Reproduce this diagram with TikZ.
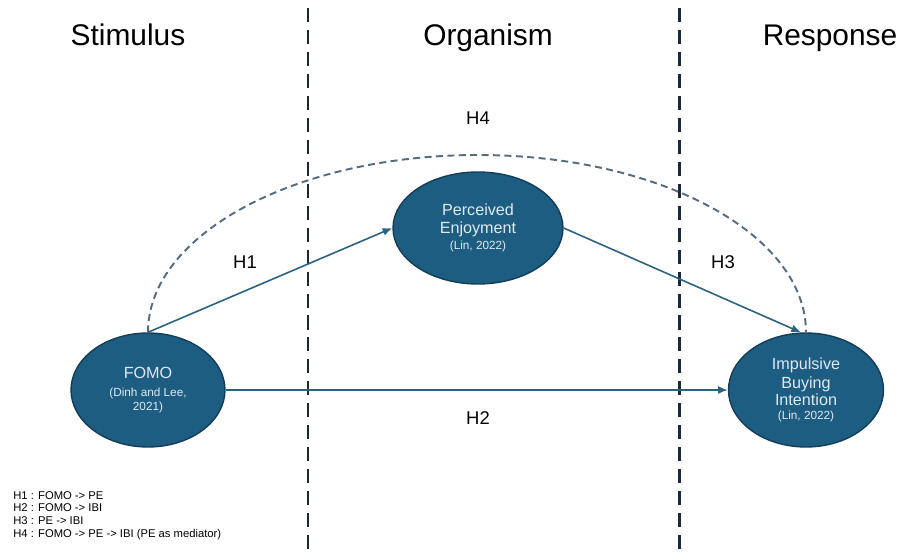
\documentclass[tikz,border=0pt]{standalone}
\usepackage{fontspec}
\setmainfont{Liberation Sans}
\usepackage{xcolor}
\usepackage{tikz}
\usetikzlibrary{arrows.meta,shapes.geometric}

\definecolor{consfill}{RGB}{29,93,130}
\definecolor{consline}{RGB}{20,62,88}
\definecolor{pathcol}{RGB}{42,98,128}
\definecolor{medcol}{RGB}{84,108,128}
\definecolor{sepcol}{RGB}{26,40,58}
\definecolor{constext}{RGB}{222,234,242}
\newcommand{\srcnote}[1]{{\fontsize{6.7}{8}\selectfont #1}}

\begin{document}
\begin{tikzpicture}[x=0.02cm, y=0.02cm,
            construct/.style={ellipse, draw=consline, fill=consfill, line width=0.8pt,
              text=constext, align=center, inner sep=0pt, font=\fontsize{9.2}{11}\selectfont},
            hyp/.style={draw=pathcol, line width=0.9pt, -{Latex[length=5.5pt,width=4.5pt]}},
            medpath/.style={draw=medcol, line width=1.1pt, dash pattern=on 4pt off 2.5pt},
            sep/.style={draw=sepcol, line width=1.7pt, dash pattern=on 8pt off 4.5pt},
            phase/.style={anchor=base, font=\fontsize{17}{20}\selectfont},
            hlabel/.style={font=\fontsize{10.5}{12}\selectfont},
          ]
          \useasboundingbox (0,0) rectangle (903,552);
          % stage separators
          \draw[sep] (308,544) -- (308,0);
          \draw[sep] (679,544) -- (679,0);
          \node[phase] (stim) at (128,506) {Stimulus};
          \node[phase] (org) at (488,506) {Organism};
          \node[phase] (resp) at (830,506) {Response};
          % constructs
          \node[construct, minimum width=3.08cm, minimum height=2.28cm] (fomo) at (148,162)
            {FOMO\\[-1pt]\srcnote{(Dinh and Lee,}\\[-3pt]\srcnote{2021)}};
          \node[construct, minimum width=3.4cm, minimum height=2.24cm] (pe) at (478,324)
            {Perceived\\[-0.5pt]Enjoyment\\[-2pt]\srcnote{(Lin, 2022)}};
          \node[construct, minimum width=3.1cm, minimum height=2.28cm] (ibi) at (806,162)
            {Impulsive\\[-0.5pt]Buying\\[-1pt]Intention\\[-3pt]\srcnote{(Lin, 2022)}};
          % hypotheses
          \coordinate (apex) at (478,397);
          \draw[medpath] (fomo.north) .. controls +(0,98) and +(-182,0) .. (apex)
            .. controls +(182,0) and +(0,98) .. (ibi.north);
          \draw[hyp] (fomo.north) -- (pe.west);
          \draw[hyp] (pe.east) -- (ibi.95);
          \draw[hyp] (fomo.east) -- (ibi.west);
          \node[hlabel] (h1) at (245,290) {H1};
          \node[hlabel] (h2) at (478,134) {H2};
          \node[hlabel] (h3) at (723,290) {H3};
          \node[hlabel] (h4) at (478,434) {H4};
          \node[anchor=north west, align=left, inner sep=0pt, font=\fontsize{6.4}{7.2}\selectfont] (key) at (13,61)
            {H1 : FOMO -> PE\\H2 : FOMO -> IBI\\H3 : PE -> IBI\\H4 : FOMO -> PE -> IBI (PE as mediator)};
        \end{tikzpicture}
\end{document}
